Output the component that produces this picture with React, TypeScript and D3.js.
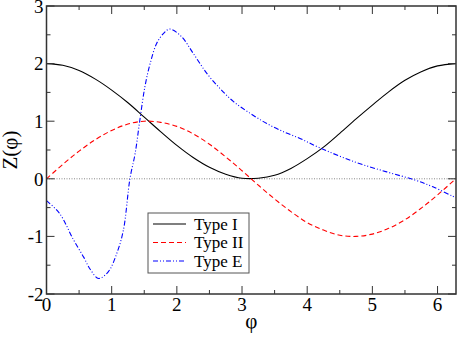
import { useEffect, useRef } from "react"
import * as d3 from "d3"

// values
const phiI = [0, 0.25, 0.5, 0.75, 1, 1.25, 1.5, 1.75, 2, 2.25, 2.5, 2.75, 3, 3.25, 3.5, 3.75, 4, 4.25, 4.5, 4.75, 5, 5.25, 5.5, 5.75, 6, 6.28]
const typeI = [2.0, 1.97, 1.88, 1.73, 1.54, 1.32, 1.07, 0.82, 0.58, 0.37, 0.2, 0.08, 0.01, 0.01, 0.06, 0.18, 0.35, 0.55, 0.79, 1.04, 1.28, 1.51, 1.71, 1.86, 1.96, 2.0]
const typeII = [0, 0.25, 0.48, 0.68, 0.84, 0.95, 1.0, 0.98, 0.91, 0.78, 0.6, 0.38, 0.14, -0.11, -0.35, -0.57, -0.76, -0.89, -0.98, -1.0, -0.96, -0.86, -0.71, -0.51, -0.28, 0]

const phiE = [0, 0.2, 0.41, 0.57, 0.67, 0.8, 0.95, 1.08, 1.18, 1.28, 1.36, 1.43, 1.51, 1.59, 1.69, 1.8, 1.89, 2.07, 2.25, 2.46, 2.66, 2.87, 3.12, 3.38, 3.63, 3.89, 4.17, 4.71, 5.22, 5.65, 5.93, 6.28]
const typeE = [-0.38, -0.6, -1.05, -1.36, -1.57, -1.73, -1.61, -1.29, -0.89, 0.0, 0.44, 1.0, 1.6, 2.0, 2.35, 2.53, 2.6, 2.47, 2.18, 1.83, 1.57, 1.34, 1.14, 0.96, 0.82, 0.7, 0.55, 0.3, 0.12, -0.02, -0.14, -0.33]

const xTicks = [0, 1, 2, 3, 4, 5, 6]
const yTicks = [-2, -1, 0, 1, 2, 3]
const legendLabels = ["Type I", "Type II", "Type E"]

const App = () => {
  const svgRef = useRef<SVGSVGElement>(null)

  useEffect(() => {
    const svg = d3.select(svgRef.current)
    svg.selectAll("*").remove()

    const W = 457
    const H = 339
    const margin = { top: 6, right: 1, bottom: 45, left: 46.5 }
    const width = W - margin.left - margin.right
    const height = H - margin.top - margin.bottom
    const font = "Liberation Serif, DejaVu Serif, serif"

    svg.attr("width", W).attr("height", H).attr("font-family", font)

    const g = svg.append("g").attr("transform", `translate(${margin.left},${margin.top})`)

    const x = d3.scaleLinear().domain([0, 2 * Math.PI]).range([0, width])
    const y = d3.scaleLinear().domain([-2, 3]).range([height, 0])

    // zero line
    g.append("line")
      .attr("x1", 0)
      .attr("x2", width)
      .attr("y1", y(0))
      .attr("y2", y(0))
      .attr("stroke", "#888")
      .attr("stroke-width", 1)
      .attr("stroke-dasharray", "1,1.5")

    const series = [
      { xs: phiI, ys: typeI, color: "#000", dash: null, label: legendLabels[0] },
      { xs: phiI, ys: typeII, color: "#ff0000", dash: "5,3", label: legendLabels[1] },
      { xs: phiE, ys: typeE, color: "#0000ff", dash: "5,2,1,2,1,2", label: legendLabels[2] },
    ]

    const line = d3
      .line<[number, number]>()
      .x((d) => x(d[0]))
      .y((d) => y(d[1]))
      .curve(d3.curveCatmullRom.alpha(0.5))

    const clip = svg.append("defs").append("clipPath").attr("id", "plotclip")
    clip.append("rect").attr("width", width).attr("height", height)

    series.forEach((s) => {
      const pts = s.xs.map((v, i) => [v, s.ys[i]] as [number, number])
      g.append("path")
        .datum(pts)
        .attr("clip-path", "url(#plotclip)")
        .attr("fill", "none")
        .attr("stroke", s.color)
        .attr("stroke-width", 1.1)
        .attr("stroke-dasharray", s.dash)
        .attr("d", line)
    })

    // frame
    g.append("rect")
      .attr("width", width)
      .attr("height", height)
      .attr("fill", "none")
      .attr("stroke", "#333")
      .attr("stroke-width", 1.5)

    // ticks on all four sides, pointing in
    const ticks = g.append("g").attr("stroke", "#333").attr("stroke-width", 1)
    d3.range(0, 6.5, 0.5).forEach((v) => {
      const len = v % 1 === 0 ? 8 : 4
      ticks.append("line").attr("x1", x(v)).attr("x2", x(v)).attr("y1", height).attr("y2", height - len)
      ticks.append("line").attr("x1", x(v)).attr("x2", x(v)).attr("y1", 0).attr("y2", len)
    })
    d3.range(-2, 3.5, 0.5).forEach((v) => {
      const len = v % 1 === 0 ? 8 : 4
      ticks.append("line").attr("y1", y(v)).attr("y2", y(v)).attr("x1", 0).attr("x2", len)
      ticks.append("line").attr("y1", y(v)).attr("y2", y(v)).attr("x1", width).attr("x2", width - len)
    })

    // tick labels
    g.selectAll(".xl")
      .data(xTicks)
      .enter()
      .append("text")
      .attr("x", (d) => x(d))
      .attr("y", height + 17)
      .attr("text-anchor", "middle")
      .attr("font-size", 19)
      .text((d) => d)

    g.selectAll(".yl")
      .data(yTicks)
      .enter()
      .append("text")
      .attr("x", -3)
      .attr("y", (d) => y(d))
      .attr("dy", "0.36em")
      .attr("text-anchor", "end")
      .attr("font-size", 19)
      .text((d) => d)

    // axis titles
    svg.append("text")
      .attr("x", margin.left + width / 2)
      .attr("y", 328)
      .attr("text-anchor", "middle")
      .attr("font-size", 21)
      .text("φ")

    svg.append("text")
      .attr("transform", `translate(17,${margin.top + height / 2}) rotate(-90)`)
      .attr("text-anchor", "middle")
      .attr("font-size", 21)
      .text("Z(φ)")

    // legend
    const legend = svg.append("g").attr("transform", "translate(148,213)")
    legend.append("rect")
      .attr("width", 101)
      .attr("height", 60)
      .attr("fill", "white")
      .attr("stroke", "#555")
      .attr("stroke-width", 1)

    series.forEach((s, i) => {
      const row = legend.append("g").attr("transform", `translate(0,${11 + i * 18.5})`)
      row.append("line")
        .attr("x1", 5)
        .attr("x2", 38)
        .attr("stroke", s.color)
        .attr("stroke-width", 1.1)
        .attr("stroke-dasharray", s.dash)
      row.append("text")
        .attr("x", 46)
        .attr("dy", "0.33em")
        .attr("font-size", 17)
        .text(s.label)
    })
  }, [])

  return (
    <div style={{ position: "absolute", left: 0, top: 0 }}>
      <svg ref={svgRef}></svg>
    </div>
  )
}

export default App
